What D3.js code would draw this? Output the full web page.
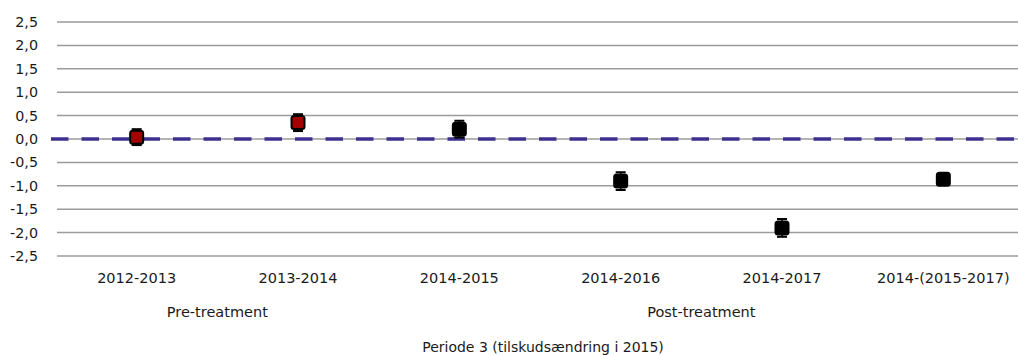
<!DOCTYPE html>
<html>
<head>
<meta charset="utf-8">
<script src="https://cdn.jsdelivr.net/npm/d3@7"></script>
<style>
  html, body { margin: 0; padding: 0; background: #fff; }
  svg { display: block; }
  text { font-family: "DejaVu Sans", Verdana, sans-serif; fill: #1a1a1a; }
</style>
</head>
<body>
<svg id="chart" width="1018" height="355"></svg>
<script>
// Estimates per comparison period with confidence interval half-widths
const categories = ["2012-2013", "2013-2014", "2014-2015", "2014-2016", "2014-2017", "2014-(2015-2017)"];
const estimates = [0.04, 0.35, 0.21, -0.90, -1.90, -0.86];
const ciHalf = [0.17, 0.18, 0.18, 0.19, 0.19, 0.12];
const pretreatment = [true, true, false, false, false, false];
const yTicks = [2.5, 2.0, 1.5, 1.0, 0.5, 0.0, -0.5, -1.0, -1.5, -2.0, -2.5];
const groupLabels = ["Pre-treatment", "Post-treatment"];
const groupFirst = [0, 2];
const groupLast = [1, 5];
const xTitle = "Periode 3 (tilskudsændring i 2015)";

const svg = d3.select("#chart");
const plotLeft = 57, plotRight = 1018, plotTop = 22, plotBottom = 256;

// Category bands run slightly past the visible right edge
const x = d3.scaleBand().domain(categories).range([56, 1024]);
const y = d3.scaleLinear().domain([-2.5, 2.5]).range([plotBottom, plotTop]);
const fmt = v => d3.format(".1f")(v).replace(".", ",").replace("−", "-");

// Horizontal grid lines
svg.append("g").selectAll("line").data(yTicks).join("line")
  .attr("x1", plotLeft).attr("x2", plotRight)
  .attr("y1", d => y(d)).attr("y2", d => y(d))
  .attr("stroke", "#9b9b9b").attr("stroke-width", 1.5);

// Y axis labels
const yAxis = svg.append("g").attr("transform", `translate(${plotLeft - 6},0)`)
  .call(d3.axisLeft(y).tickValues(yTicks).tickFormat(fmt).tickSize(0).tickPadding(13));
yAxis.select(".domain").remove();
yAxis.selectAll("text").attr("font-size", 14.3).attr("font-family", "DejaVu Sans").attr("fill", "#1a1a1a");

// Dashed reference line at zero
svg.append("line")
  .attr("x1", 51).attr("x2", plotRight)
  .attr("y1", y(0)).attr("y2", y(0))
  .attr("stroke", "#3d3190").attr("stroke-width", 3.5)
  .attr("stroke-dasharray", "17.5 13");

// Error bars
const cx = d => x(d) + x.bandwidth() / 2;
const pts = categories.map((c, i) => ({ c, v: estimates[i], e: ciHalf[i], pre: pretreatment[i] }));
const eb = svg.append("g").selectAll("g").data(pts).join("g");
eb.append("line")
  .attr("x1", d => cx(d.c)).attr("x2", d => cx(d.c))
  .attr("y1", d => y(d.v + d.e)).attr("y2", d => y(d.v - d.e))
  .attr("stroke", "#000").attr("stroke-width", 1.5);
eb.selectAll("line.cap").data(d => [
    { c: d.c, yy: d.v + d.e }, { c: d.c, yy: d.v - d.e }
  ]).join("line").attr("class", "cap")
  .attr("x1", d => cx(d.c) - 5).attr("x2", d => cx(d.c) + 5)
  .attr("y1", d => y(d.yy)).attr("y2", d => y(d.yy))
  .attr("stroke", "#000").attr("stroke-width", 2);

// Square markers
svg.append("g").selectAll("rect").data(pts).join("rect")
  .attr("x", d => cx(d.c) - 6.5).attr("y", d => y(d.v) - 6.5)
  .attr("width", 13).attr("height", 13).attr("rx", 2.5)
  .attr("fill", d => d.pre ? "#a50000" : "#000")
  .attr("stroke", "#000").attr("stroke-width", 2);

// Category labels
svg.append("g").selectAll("text").data(categories).join("text")
  .attr("x", d => cx(d)).attr("y", 283)
  .attr("text-anchor", "middle").attr("font-size", 14.5)
  .text(d => d);

// Group labels spanning categories
svg.append("g").selectAll("text").data(groupLabels).join("text")
  .attr("x", (d, i) => (cx(categories[groupFirst[i]]) + cx(categories[groupLast[i]])) / 2)
  .attr("y", 317)
  .attr("text-anchor", "middle").attr("font-size", 14.5)
  .text(d => d);

// Axis title
svg.append("text")
  .attr("x", 543).attr("y", 352)
  .attr("text-anchor", "middle").attr("font-size", 14)
  .text(xTitle);
</script>
</body>
</html>
